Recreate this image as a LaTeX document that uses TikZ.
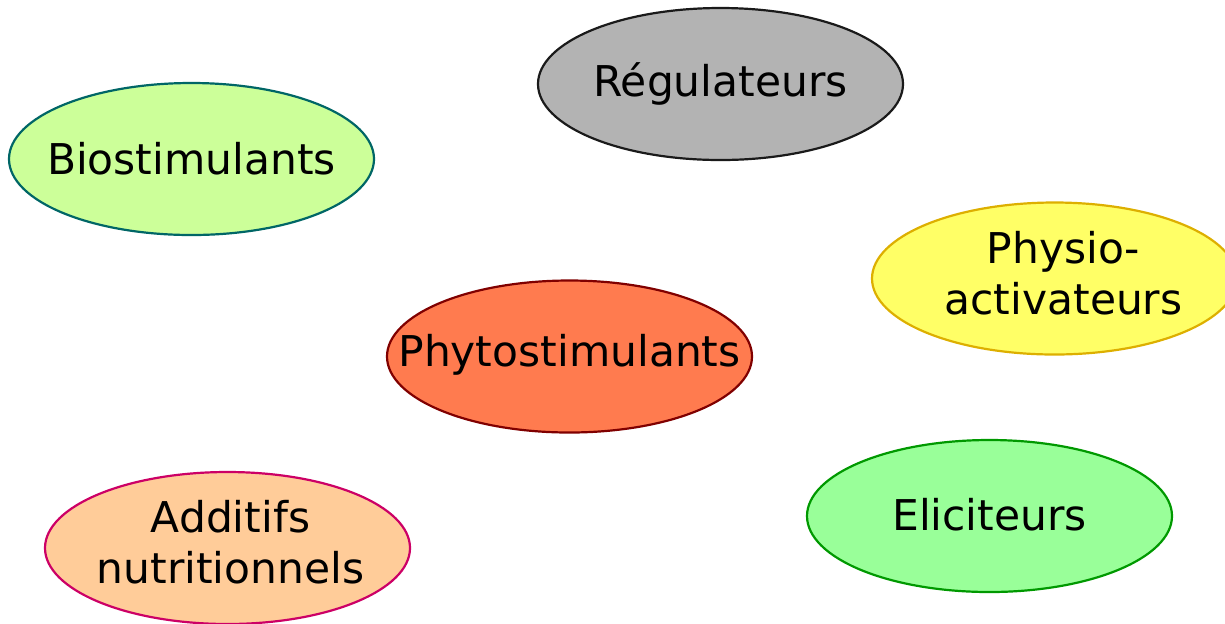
\documentclass[tikz,border=0pt]{standalone}
\usepackage{fontspec}
\setmainfont{DejaVu Sans}
\usetikzlibrary{shapes.geometric}

\definecolor{regfill}{HTML}{B3B3B3}
\definecolor{regline}{HTML}{1A1A1A}
\definecolor{biofill}{HTML}{CCFF99}
\definecolor{bioline}{HTML}{006666}
\definecolor{physfill}{HTML}{FFFF66}
\definecolor{physline}{HTML}{DDAF00}
\definecolor{phytofill}{HTML}{FF7B4F}
\definecolor{phytoline}{HTML}{800000}
\definecolor{addfill}{HTML}{FFCC99}
\definecolor{addline}{HTML}{CC0066}
\definecolor{elicfill}{HTML}{99FF99}
\definecolor{elicline}{HTML}{009900}

\tikzset{
  bubble/.style={ellipse, draw, line width=1.1pt, inner sep=0pt,
    minimum width=182.5pt, minimum height=76pt}, % ellipse of one category
  tag/.style={font=\fontsize{21.2}{25.5}\selectfont, align=center,
    inner sep=0pt, text=black} % text in the ellipse
}

\begin{document}
\begin{tikzpicture}[x=0.5pt, y=-0.5pt]
    \useasboundingbox (0,0) rectangle (1225,623);

    \node[bubble, fill=regfill, draw=regline,
      label={[tag]center:Régulateurs}] (reg) at (720.5,84) {};
    \node[bubble, fill=biofill, draw=bioline,
      label={[tag]center:Biostimulants}] (bio) at (191.5,159) {};
    \node[bubble, fill=physfill, draw=physline,
      label={[tag, xshift=4.5pt, yshift=2.5pt]center:Physio-\\activateurs}] (phys) at (1054.5,278.5) {};
    \node[bubble, fill=phytofill, draw=phytoline,
      label={[tag, yshift=1pt]center:Phytostimulants}] (phyto) at (569.5,356.5) {};
    \node[bubble, fill=addfill, draw=addline,
      label={[tag, xshift=1.5pt, yshift=3pt]center:Additifs\\nutritionnels}] (add) at (227.5,548) {};
    \node[bubble, fill=elicfill, draw=elicline,
      label={[tag, yshift=0.5pt]center:Eliciteurs}] (elic) at (989.5,516) {};
\end{tikzpicture}
\end{document}
